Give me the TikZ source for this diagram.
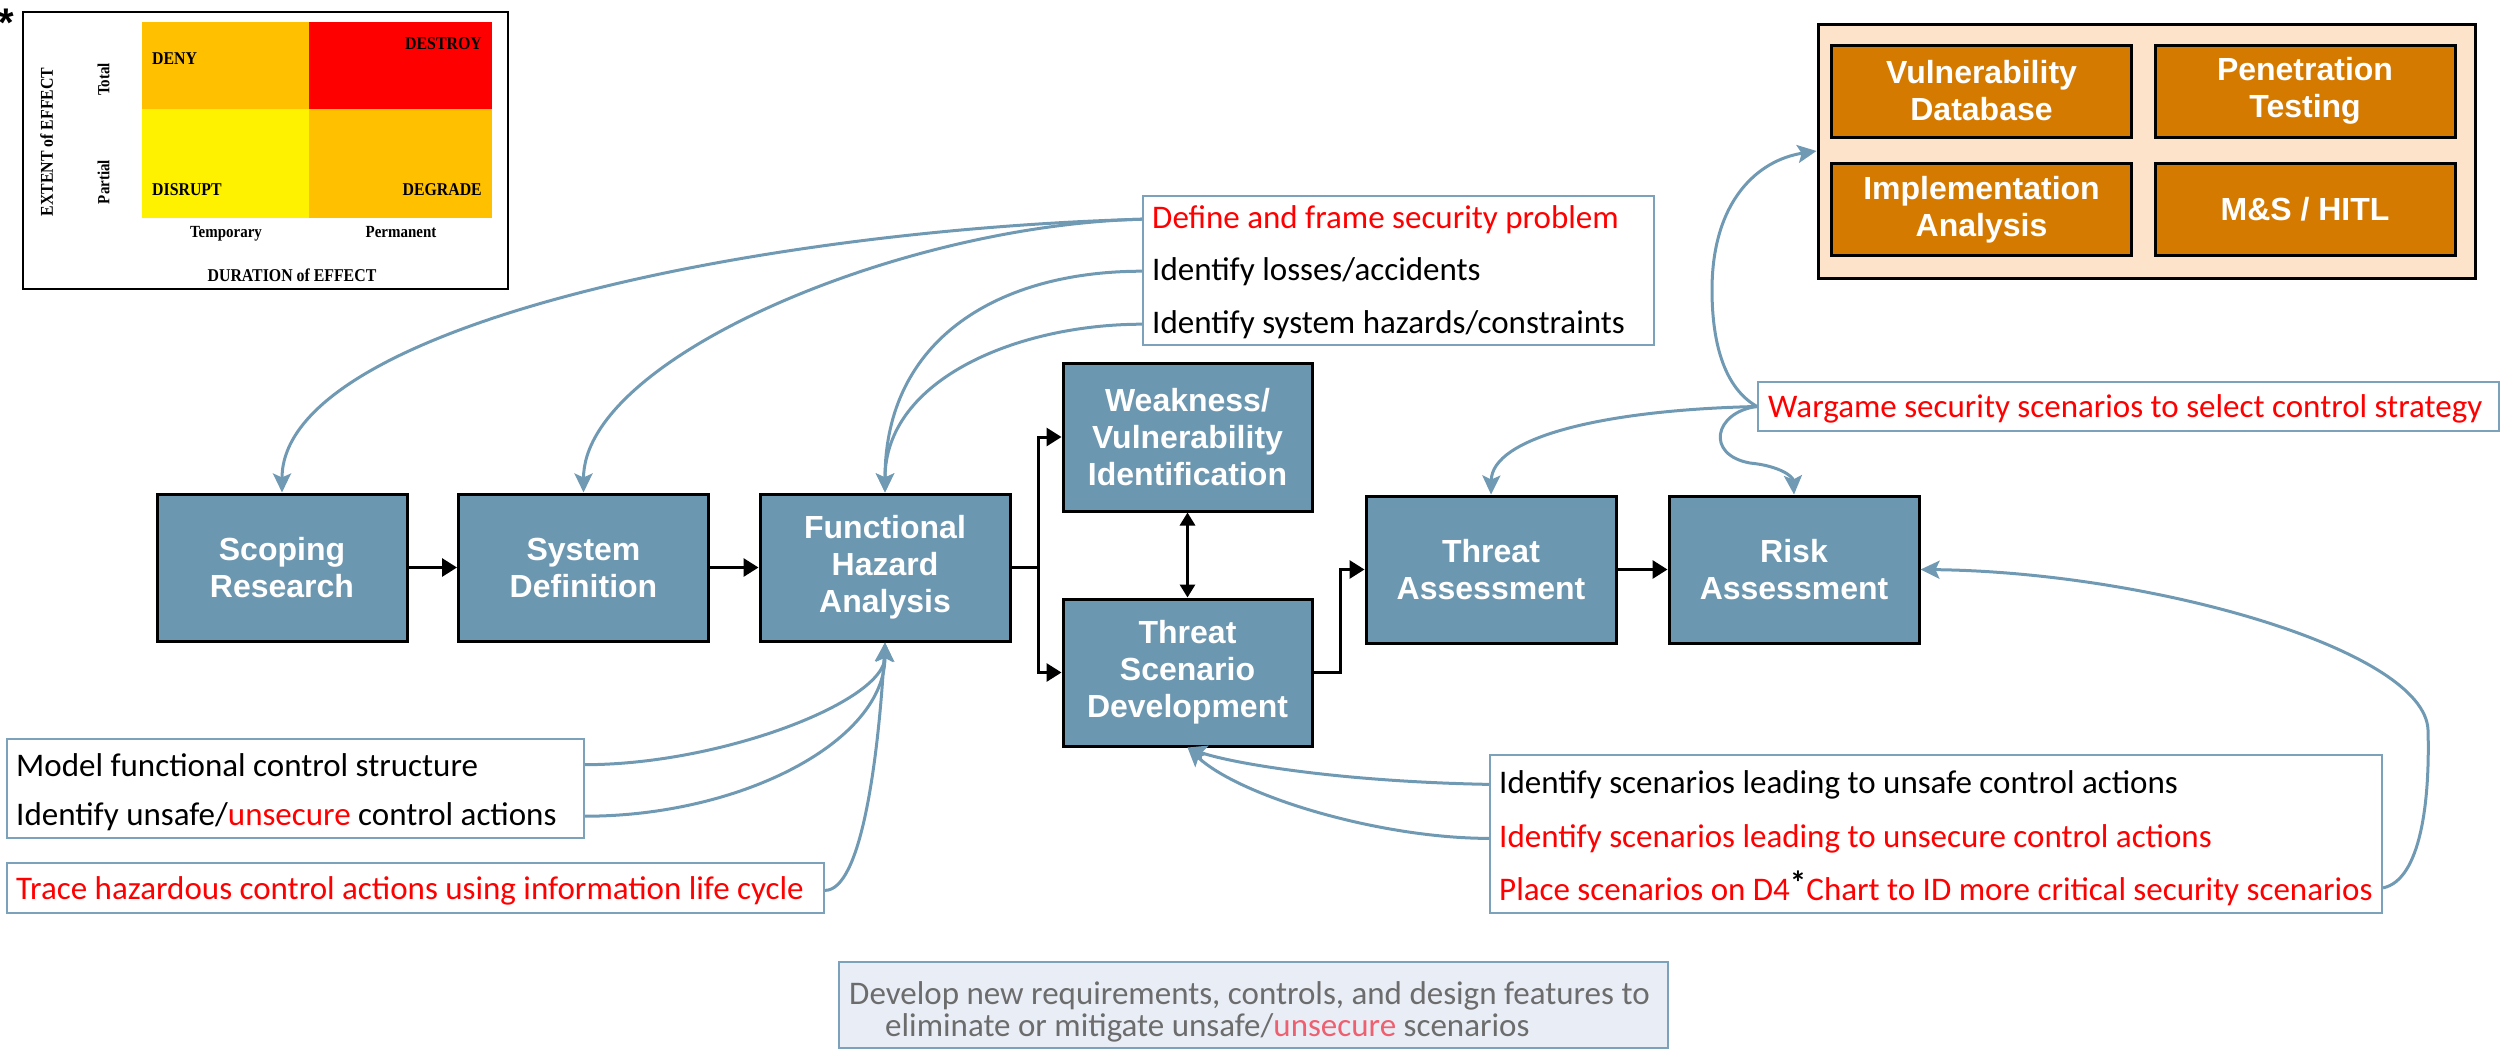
\documentclass[tikz,border=0pt]{standalone}
\usepackage{fontspec}
\setmainfont{Carlito}
\newfontfamily\labelfont{Liberation Sans}
\newfontfamily\chartfont[FakeStretch=0.88]{Liberation Serif}
\usetikzlibrary{arrows.meta}

\definecolor{stagefill}{RGB}{108,151,176}
\definecolor{linkblue}{RGB}{112,154,180}
\definecolor{noteframe}{RGB}{124,161,187}
\definecolor{toolback}{RGB}{253,227,202}
\definecolor{toolfill}{RGB}{213,122,0}
\definecolor{amber}{RGB}{255,192,0}
\definecolor{summaryback}{RGB}{233,238,246}
\definecolor{summarytext}{RGB}{108,108,108}
\definecolor{summarypink}{RGB}{238,96,112}

\begin{document}
\begin{tikzpicture}[x=1pt,y=-1pt,
  stage/.style={draw=black, line width=3pt, fill=stagefill, text=white,
    minimum width=250pt, minimum height=147pt, inner sep=0pt, align=center,
    font=\labelfont\bfseries\fontsize{32}{37}\selectfont},
  tool/.style={draw=black, line width=3pt, fill=toolfill, text=white,
    minimum width=300pt, minimum height=92pt, inner sep=0pt, align=center,
    font=\labelfont\bfseries\fontsize{32}{37}\selectfont},
  notebox/.style={draw=noteframe, line width=2pt, fill=white, inner sep=0pt},
  noteline/.style={anchor=base west, inner sep=0pt, font=\fontsize{33}{40}\selectfont},
  flow/.style={draw=black, line width=3pt, -{Triangle[length=15pt,width=18pt]}},
  link/.style={draw=linkblue, line width=3pt, -{Stealth[length=19pt,width=18pt,inset=4pt]}},
  cellword/.style={inner sep=0pt, font=\chartfont\bfseries\fontsize{18}{20}\selectfont},
  axisword/.style={inner sep=0pt, font=\chartfont\bfseries\fontsize{17}{20}\selectfont},
]
\useasboundingbox (0,0) rectangle (2507,1052);
\fill[white] (0,0) rectangle (2507,1052);

% ---- D4 effect chart ----
\node[anchor=north west, inner sep=0pt, font=\labelfont\bfseries\fontsize{40}{40}\selectfont] (star) at (-2,9) {*};
\node[draw=black, line width=2pt, minimum width=485pt, minimum height=277pt, inner sep=0pt] (chart) at (265.5,150.5) {};
\fill[amber] (142,22) rectangle (309,109);
\fill[red] (309,22) rectangle (492,109);
\fill[yellow] (142,109) rectangle (309,218);
\fill[amber] (309,109) rectangle (492,218);
\node[cellword, anchor=base west] (deny) at (152,64) {DENY};
\node[cellword, anchor=base east] (destroy) at (482,49) {DESTROY};
\node[cellword, anchor=base west] (disrupt) at (152,195) {DISRUPT};
\node[cellword, anchor=base east] (degrade) at (482,195) {DEGRADE};
\node[axisword, anchor=base] (temp) at (226,237) {Temporary};
\node[axisword, anchor=base] (perm) at (401,237) {Permanent};
\node[cellword, anchor=base] (duration) at (292,281) {DURATION of EFFECT};
\node[axisword, rotate=90] (total) at (103.5,79.5) {Total};
\node[axisword, rotate=90] (partial) at (103.5,182) {Partial};
\node[cellword, rotate=90] (extent) at (46.5,142) {EXTENT of EFFECT};

% ---- assessment toolkit ----
\node[draw=black, line width=3pt, fill=toolback, minimum width=657pt, minimum height=254pt, inner sep=0pt] (toolkit) at (2146.5,151) {};
\node[tool] (vdb) at (1981.5,91) {Vulnerability\\Database};
\node[tool] (pen) at (2305,91) {Penetration\\Testing};
\node[tool] (impl) at (1981.5,209.5) {Implementation\\Analysis};
\node[tool] (mshitl) at (2305,209.5) {M\&S / HITL};

% ---- process stages ----
\node[stage] (scope) at (282,567.5) {Scoping\\Research};
\node[stage] (sysdef) at (583.5,567.5) {System\\Definition};
\node[stage] (fha) at (885,567.5) {Functional\\Hazard\\Analysis};
\node[stage, minimum width=249pt, minimum height=148pt] (weak) at (1187.5,437) {Weakness/\\Vulnerability\\Identification};
\node[stage, minimum width=249pt] (tsd) at (1187.5,672.5) {Threat\\Scenario\\Development};
\node[stage] (ta) at (1491,569.5) {Threat\\Assessment};
\node[stage] (risk) at (1794,569.5) {Risk\\Assessment};

% ---- notes ----
\node[notebox, minimum width=511pt, minimum height=149pt] (defbox) at (1398.5,270.5) {};
\node[noteline, text=red] (defA) at (1152,228) {Define and frame security problem};
\node[noteline] (defB) at (1152,280) {Identify losses/accidents};
\node[noteline] (defC) at (1152,333) {Identify system hazards/constraints};

\node[notebox, minimum width=741pt, minimum height=49pt] (wargame) at (2128.5,406.5) {};
\node[noteline, text=red] (wargameText) at (1768,417.5) {Wargame security scenarios to select control strategy};

\node[notebox, minimum width=577pt, minimum height=99pt] (modelbox) at (295.5,788.5) {};
\node[noteline] (modA) at (16,776) {Model functional control structure};
\node[noteline] (modB) at (16,825) {Identify unsafe/\textcolor{red}{unsecure} control actions};

\node[notebox, minimum width=817pt, minimum height=50pt] (tracebox) at (415.5,888) {};
\node[noteline, text=red] (trace) at (16,899) {Trace hazardous control actions using information life cycle};

\node[notebox, minimum width=892pt, minimum height=158pt] (scenbox) at (1936,834) {};
\node[noteline] (scenA) at (1499,793) {Identify scenarios leading to unsafe control actions};
\node[noteline, text=red] (scenB) at (1499,847) {Identify scenarios leading to unsecure control actions};
\node[noteline, text=red] (scenC) at (1499,900) {Place scenarios on D4\raisebox{0.18em}{\color{black}\bfseries *}Chart to ID more critical security scenarios};

\node[draw=noteframe, line width=2pt, fill=summaryback, minimum width=829pt, minimum height=86pt, inner sep=0pt] (summary) at (1253.5,1005) {};
\node[noteline, text=summarytext] (sumA) at (849,1004) {Develop new requirements, controls, and design features to};
\node[noteline, text=summarytext] (sumB) at (885,1036) {eliminate or mitigate unsafe/\textcolor{summarypink}{unsecure} scenarios};

% ---- main flow ----
\draw[flow] (scope) -- (sysdef);
\draw[flow] (sysdef) -- (fha);
\draw[flow] (fha.east) -- ++(27,0) |- (weak.west);
\draw[flow] (fha.east) -- ++(27,0) |- (tsd.west);
\draw[line width=3pt, {Triangle[length=13pt,width=15pt]}-{Triangle[length=13pt,width=15pt]}] (weak) -- (tsd);
\draw[flow] (tsd.east) -- ++(27,0) |- (ta.west);
\draw[flow] (ta) -- (risk);

% ---- feedback links ----
\coordinate (riskloop) at (2428,730);
\coordinate (toolbend) at (1712,290);
\coordinate (riskdip) at (1750,463);

\draw[link] (defbox.west |- defA) .. controls +(-393,11) and +(0,-164) .. (scope.north);
\draw[link] (defbox.west |- defA) .. controls +(-243,6) and +(0,-134) .. (sysdef.north);
\draw[link] (defbox.west |- defB) .. controls +(-143,0) and +(0,-154) .. (fha.north);
\draw[link] (defbox.west |- defC) .. controls +(-123,0) and +(0,-114) .. (fha.north);

\draw[link] (modelbox.east |- modA) .. controls +(136,0) and +(0,59) .. (fha.south);
\draw[link] (modelbox.east |- modB) .. controls +(156,0) and +(0,99) .. (fha.south);
\draw[link] (tracebox.east |- trace) .. controls +(36,0) and +(-7,119) .. (fha.south);

\draw[link] (scenbox.west |- scenA) .. controls +(-159,-3) and +(37.5,14) .. (tsd.south);
\draw[link] (scenbox.west |- scenB) .. controls +(-109,0) and +(52.5,49) .. (tsd.south);
\draw[link] (scenbox.east |- scenC) .. controls +(38,-8) and +(2,70) .. (riskloop)
  .. controls +(-3,-80) and +(231,2.5) .. (risk.east);

\draw[link] (wargame.west) .. controls +(-38,-21.5) and +(0,40) .. (toolbend)
  .. controls +(0,-90) and +(-58,9) .. (toolkit.west);
\draw[link] (wargame.west) .. controls +(-158,3.5) and +(1,-56) .. (ta.north);
\draw[link] (wargame.west) .. controls +(-43,5.5) and +(-45,-8) .. (riskdip)
  .. controls +(30,3) and +(-1,-18) .. (risk.north);
\end{tikzpicture}
\end{document}
